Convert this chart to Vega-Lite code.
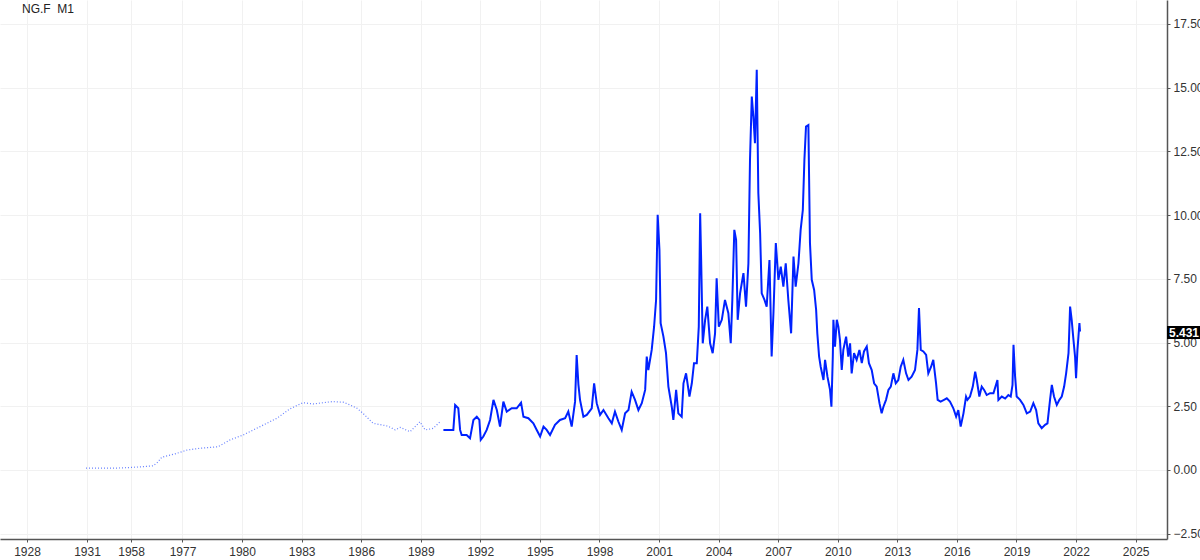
{
  "$schema": "https://vega.github.io/schema/vega-lite/v6.json",
  "width": 1167,
  "height": 539,
  "autosize": {"type": "none"},
  "padding": {"left": 0, "top": 0, "right": 33, "bottom": 21},
  "background": "white",
  "config": {"view": {"stroke": null}, "font": "Liberation Sans"},
  "title": {"text": "NG.F\u00a0\u00a0M1", "anchor": "start", "frame": "group", "orient": "top", "offset": -16, "dx": 22, "fontSize": 12, "fontWeight": "normal", "color": "#222222", "font": "Liberation Sans"},
  "datasets": {
    "early": [
      {"t": 1972.14, "v": 0.07}, {"t": 1972.85, "v": 0.07}, {"t": 1973.60, "v": 0.07}, {"t": 1974.21, "v": 0.09},
      {"t": 1974.86, "v": 0.12}, {"t": 1975.52, "v": 0.16}, {"t": 1975.75, "v": 0.30}, {"t": 1975.96, "v": 0.50},
      {"t": 1976.63, "v": 0.63}, {"t": 1977.23, "v": 0.78}, {"t": 1977.88, "v": 0.85}, {"t": 1978.79, "v": 0.91},
      {"t": 1979.40, "v": 1.18}, {"t": 1980.05, "v": 1.37}, {"t": 1980.91, "v": 1.70}, {"t": 1981.76, "v": 2.03},
      {"t": 1982.42, "v": 2.40}, {"t": 1983.07, "v": 2.64}, {"t": 1983.58, "v": 2.59}, {"t": 1984.53, "v": 2.68},
      {"t": 1985.09, "v": 2.66}, {"t": 1985.44, "v": 2.55}, {"t": 1985.79, "v": 2.42}, {"t": 1986.09, "v": 2.22},
      {"t": 1986.60, "v": 1.83}, {"t": 1987.35, "v": 1.72}, {"t": 1987.71, "v": 1.57}, {"t": 1987.96, "v": 1.67},
      {"t": 1988.46, "v": 1.50}, {"t": 1988.96, "v": 1.89}, {"t": 1989.22, "v": 1.57}, {"t": 1989.62, "v": 1.63},
      {"t": 1989.97, "v": 1.89}
    ],
    "main": [
      {"t": 1990.14, "v": 1.57}, {"t": 1990.64, "v": 1.57}, {"t": 1990.73, "v": 2.55}, {"t": 1990.89, "v": 2.42},
      {"t": 1990.98, "v": 1.57}, {"t": 1991.06, "v": 1.37}, {"t": 1991.31, "v": 1.37}, {"t": 1991.48, "v": 1.24},
      {"t": 1991.65, "v": 1.96}, {"t": 1991.82, "v": 2.09}, {"t": 1991.95, "v": 1.96}, {"t": 1992.02, "v": 1.18},
      {"t": 1992.15, "v": 1.31}, {"t": 1992.32, "v": 1.57}, {"t": 1992.49, "v": 1.96}, {"t": 1992.66, "v": 2.75},
      {"t": 1992.83, "v": 2.35}, {"t": 1992.99, "v": 1.70}, {"t": 1993.16, "v": 2.68}, {"t": 1993.33, "v": 2.29},
      {"t": 1993.58, "v": 2.42}, {"t": 1993.83, "v": 2.42}, {"t": 1994.05, "v": 2.64}, {"t": 1994.17, "v": 2.09},
      {"t": 1994.42, "v": 2.03}, {"t": 1994.67, "v": 1.83}, {"t": 1994.84, "v": 1.57}, {"t": 1995.01, "v": 1.31},
      {"t": 1995.18, "v": 1.70}, {"t": 1995.34, "v": 1.57}, {"t": 1995.51, "v": 1.37}, {"t": 1995.76, "v": 1.77},
      {"t": 1996.01, "v": 1.96}, {"t": 1996.27, "v": 2.03}, {"t": 1996.43, "v": 2.29}, {"t": 1996.60, "v": 1.70},
      {"t": 1996.77, "v": 2.68}, {"t": 1996.85, "v": 4.51}, {"t": 1996.94, "v": 3.34}, {"t": 1997.02, "v": 2.75},
      {"t": 1997.19, "v": 2.09}, {"t": 1997.36, "v": 2.16}, {"t": 1997.61, "v": 2.42}, {"t": 1997.73, "v": 3.40},
      {"t": 1997.86, "v": 2.62}, {"t": 1998.03, "v": 2.16}, {"t": 1998.20, "v": 2.35}, {"t": 1998.45, "v": 2.03},
      {"t": 1998.62, "v": 1.83}, {"t": 1998.78, "v": 2.29}, {"t": 1998.95, "v": 1.90}, {"t": 1999.12, "v": 1.57},
      {"t": 1999.29, "v": 2.22}, {"t": 1999.46, "v": 2.35}, {"t": 1999.62, "v": 3.07}, {"t": 1999.79, "v": 2.75},
      {"t": 1999.96, "v": 2.35}, {"t": 2000.13, "v": 2.62}, {"t": 2000.30, "v": 3.14}, {"t": 2000.38, "v": 4.45},
      {"t": 2000.46, "v": 3.92}, {"t": 2000.63, "v": 4.71}, {"t": 2000.75, "v": 5.62}, {"t": 2000.85, "v": 6.67},
      {"t": 2000.93, "v": 10.01}, {"t": 2001.02, "v": 8.63}, {"t": 2001.08, "v": 5.76}, {"t": 2001.22, "v": 5.23},
      {"t": 2001.35, "v": 4.58}, {"t": 2001.47, "v": 3.27}, {"t": 2001.64, "v": 2.48}, {"t": 2001.72, "v": 1.96},
      {"t": 2001.86, "v": 3.14}, {"t": 2001.97, "v": 2.22}, {"t": 2002.14, "v": 2.09}, {"t": 2002.23, "v": 3.40},
      {"t": 2002.36, "v": 3.79}, {"t": 2002.53, "v": 2.88}, {"t": 2002.65, "v": 3.40}, {"t": 2002.76, "v": 4.19},
      {"t": 2002.90, "v": 4.19}, {"t": 2003.00, "v": 5.62}, {"t": 2003.07, "v": 10.07}, {"t": 2003.12, "v": 8.24},
      {"t": 2003.20, "v": 4.97}, {"t": 2003.32, "v": 5.89}, {"t": 2003.43, "v": 6.41}, {"t": 2003.57, "v": 4.97},
      {"t": 2003.70, "v": 4.58}, {"t": 2003.82, "v": 5.36}, {"t": 2003.90, "v": 7.52}, {"t": 2004.01, "v": 5.62},
      {"t": 2004.16, "v": 5.89}, {"t": 2004.32, "v": 6.67}, {"t": 2004.49, "v": 6.15}, {"t": 2004.61, "v": 4.97},
      {"t": 2004.69, "v": 6.67}, {"t": 2004.79, "v": 9.42}, {"t": 2004.88, "v": 9.03}, {"t": 2004.96, "v": 5.89},
      {"t": 2005.08, "v": 6.93}, {"t": 2005.25, "v": 7.72}, {"t": 2005.38, "v": 6.41}, {"t": 2005.50, "v": 8.11},
      {"t": 2005.58, "v": 12.17}, {"t": 2005.67, "v": 14.65}, {"t": 2005.75, "v": 13.87}, {"t": 2005.83, "v": 12.82},
      {"t": 2005.92, "v": 15.70}, {"t": 2006.00, "v": 10.86}, {"t": 2006.09, "v": 9.29}, {"t": 2006.17, "v": 6.93},
      {"t": 2006.31, "v": 6.67}, {"t": 2006.42, "v": 6.41}, {"t": 2006.56, "v": 8.24}, {"t": 2006.67, "v": 4.45},
      {"t": 2006.76, "v": 6.15}, {"t": 2006.88, "v": 8.90}, {"t": 2007.01, "v": 7.46}, {"t": 2007.13, "v": 7.98},
      {"t": 2007.26, "v": 7.19}, {"t": 2007.38, "v": 8.11}, {"t": 2007.51, "v": 6.67}, {"t": 2007.65, "v": 5.36},
      {"t": 2007.77, "v": 8.37}, {"t": 2007.88, "v": 7.19}, {"t": 2008.02, "v": 8.11}, {"t": 2008.13, "v": 9.42},
      {"t": 2008.24, "v": 10.20}, {"t": 2008.32, "v": 12.17}, {"t": 2008.40, "v": 13.47}, {"t": 2008.52, "v": 13.53},
      {"t": 2008.60, "v": 8.90}, {"t": 2008.69, "v": 7.46}, {"t": 2008.81, "v": 7.06}, {"t": 2008.91, "v": 6.28},
      {"t": 2008.97, "v": 5.36}, {"t": 2009.06, "v": 4.45}, {"t": 2009.14, "v": 4.05}, {"t": 2009.28, "v": 3.53},
      {"t": 2009.36, "v": 4.32}, {"t": 2009.48, "v": 3.66}, {"t": 2009.61, "v": 3.14}, {"t": 2009.68, "v": 2.48},
      {"t": 2009.75, "v": 4.45}, {"t": 2009.78, "v": 5.89}, {"t": 2009.86, "v": 4.84}, {"t": 2009.95, "v": 5.89},
      {"t": 2010.03, "v": 5.62}, {"t": 2010.11, "v": 5.10}, {"t": 2010.20, "v": 3.92}, {"t": 2010.28, "v": 4.71},
      {"t": 2010.42, "v": 5.23}, {"t": 2010.53, "v": 4.45}, {"t": 2010.62, "v": 4.97}, {"t": 2010.70, "v": 3.79},
      {"t": 2010.82, "v": 4.58}, {"t": 2010.95, "v": 4.32}, {"t": 2011.09, "v": 4.71}, {"t": 2011.21, "v": 4.19},
      {"t": 2011.32, "v": 4.65}, {"t": 2011.46, "v": 4.84}, {"t": 2011.57, "v": 4.19}, {"t": 2011.71, "v": 3.92},
      {"t": 2011.83, "v": 3.40}, {"t": 2011.96, "v": 3.27}, {"t": 2012.10, "v": 2.62}, {"t": 2012.21, "v": 2.22},
      {"t": 2012.30, "v": 2.48}, {"t": 2012.43, "v": 2.75}, {"t": 2012.55, "v": 3.14}, {"t": 2012.67, "v": 3.27},
      {"t": 2012.80, "v": 3.79}, {"t": 2012.92, "v": 3.40}, {"t": 2013.05, "v": 3.53}, {"t": 2013.17, "v": 4.05},
      {"t": 2013.30, "v": 4.32}, {"t": 2013.44, "v": 3.79}, {"t": 2013.56, "v": 3.53}, {"t": 2013.72, "v": 3.66},
      {"t": 2013.89, "v": 3.92}, {"t": 2014.01, "v": 4.71}, {"t": 2014.09, "v": 6.35}, {"t": 2014.18, "v": 4.71},
      {"t": 2014.31, "v": 4.65}, {"t": 2014.45, "v": 4.51}, {"t": 2014.56, "v": 3.79}, {"t": 2014.70, "v": 4.05},
      {"t": 2014.81, "v": 4.32}, {"t": 2014.95, "v": 3.40}, {"t": 2015.03, "v": 2.75}, {"t": 2015.18, "v": 2.68},
      {"t": 2015.35, "v": 2.75}, {"t": 2015.49, "v": 2.81}, {"t": 2015.65, "v": 2.68}, {"t": 2015.82, "v": 2.42},
      {"t": 2015.96, "v": 2.09}, {"t": 2016.07, "v": 2.35}, {"t": 2016.19, "v": 1.70}, {"t": 2016.33, "v": 2.22},
      {"t": 2016.46, "v": 2.88}, {"t": 2016.53, "v": 2.75}, {"t": 2016.66, "v": 2.88}, {"t": 2016.80, "v": 3.27},
      {"t": 2016.92, "v": 3.86}, {"t": 2017.00, "v": 3.53}, {"t": 2017.13, "v": 2.88}, {"t": 2017.25, "v": 3.27},
      {"t": 2017.37, "v": 3.14}, {"t": 2017.50, "v": 2.94}, {"t": 2017.67, "v": 3.01}, {"t": 2017.84, "v": 3.01},
      {"t": 2018.04, "v": 3.53}, {"t": 2018.09, "v": 2.75}, {"t": 2018.26, "v": 2.88}, {"t": 2018.43, "v": 2.80},
      {"t": 2018.59, "v": 2.94}, {"t": 2018.71, "v": 2.88}, {"t": 2018.80, "v": 3.34}, {"t": 2018.85, "v": 4.91},
      {"t": 2018.93, "v": 3.66}, {"t": 2019.01, "v": 2.88}, {"t": 2019.18, "v": 2.75}, {"t": 2019.35, "v": 2.55},
      {"t": 2019.52, "v": 2.22}, {"t": 2019.69, "v": 2.29}, {"t": 2019.85, "v": 2.62}, {"t": 2019.99, "v": 2.35},
      {"t": 2020.10, "v": 1.83}, {"t": 2020.27, "v": 1.64}, {"t": 2020.44, "v": 1.77}, {"t": 2020.56, "v": 1.83},
      {"t": 2020.69, "v": 2.75}, {"t": 2020.78, "v": 3.34}, {"t": 2020.89, "v": 2.88}, {"t": 2021.03, "v": 2.55},
      {"t": 2021.16, "v": 2.75}, {"t": 2021.28, "v": 2.88}, {"t": 2021.40, "v": 3.27}, {"t": 2021.50, "v": 3.79},
      {"t": 2021.62, "v": 4.58}, {"t": 2021.70, "v": 6.41}, {"t": 2021.78, "v": 5.89}, {"t": 2021.87, "v": 5.10},
      {"t": 2021.95, "v": 4.45}, {"t": 2022.00, "v": 3.60}, {"t": 2022.07, "v": 4.71}, {"t": 2022.12, "v": 5.23},
      {"t": 2022.17, "v": 5.76}, {"t": 2022.20, "v": 5.431}
    ],
    "last": [{"t": 2022.20, "v": 5.431}]
  },
  "layer": [
    {
      "data": {"name": "early"},
      "mark": {"type": "line", "color": "#3355ff", "strokeWidth": 1.2, "strokeDash": [1, 2], "opacity": 0.75},
      "encoding": {
        "x": {
          "field": "t", "type": "quantitative",
          "scale": {"domain": [1967.81, 2026.58], "nice": false, "zero": false},
          "axis": {
            "orient": "bottom", "title": null,
            "values": [1969.17, 1972.19, 1974.41, 1977, 1980, 1983, 1986, 1989, 1992, 1995, 1998, 2001, 2004, 2007, 2010, 2013, 2016, 2019, 2022, 2025],
            "labelExpr": "datum.value < 1970 ? '1928' : datum.value < 1973 ? '1931' : datum.value < 1975 ? '1958' : format(datum.value, 'd')",
            "grid": true, "gridColor": "#f1f1f1", "gridWidth": 1,
            "domainColor": "#555555", "domainWidth": 1.5, "tickColor": "#555555", "tickSize": 3,
            "labelPadding": 4, "labelColor": "#333333", "labelFontSize": 12, "labelFont": "Liberation Sans",
            "labelFlush": false, "labelOverlap": false
          }
        },
        "y": {
          "field": "v", "type": "quantitative",
          "scale": {"domain": [-2.71, 18.44], "nice": false, "zero": false},
          "axis": {
            "orient": "right", "title": null,
            "values": [-2.5, 0, 2.5, 5, 7.5, 10, 12.5, 15, 17.5],
            "format": ".2f",
            "grid": true, "gridColor": "#f1f1f1", "gridWidth": 1,
            "domainColor": "#555555", "domainWidth": 1.5, "tickColor": "#555555", "tickSize": 3,
            "labelPadding": 3, "labelColor": "#333333", "labelFontSize": 12, "labelFont": "Liberation Sans",
            "labelFlush": false, "labelOverlap": false
          }
        }
      }
    },
    {
      "data": {"name": "main"},
      "mark": {"type": "line", "color": "#0022ff", "strokeWidth": 2},
      "encoding": {
        "x": {"field": "t", "type": "quantitative"},
        "y": {"field": "v", "type": "quantitative"}
      }
    },
    {
      "data": {"name": "last"},
      "mark": {"type": "rect", "color": "#000000", "yOffset": -5.5, "y2Offset": 7.5, "x2Offset": 34},
      "encoding": {
        "x": {"datum": 2026.58},
        "x2": {"datum": 2026.58},
        "y": {"field": "v", "type": "quantitative"},
        "y2": {"field": "v"}
      }
    },
    {
      "data": {"name": "last"},
      "mark": {"type": "text", "color": "#ffffff", "align": "left", "baseline": "middle", "dx": 2, "dy": 1, "fontSize": 12, "fontWeight": "bold", "font": "Liberation Sans"},
      "encoding": {
        "x": {"datum": 2026.58},
        "y": {"field": "v", "type": "quantitative"},
        "text": {"field": "v", "type": "quantitative", "format": ".3f"}
      }
    }
  ]
}
